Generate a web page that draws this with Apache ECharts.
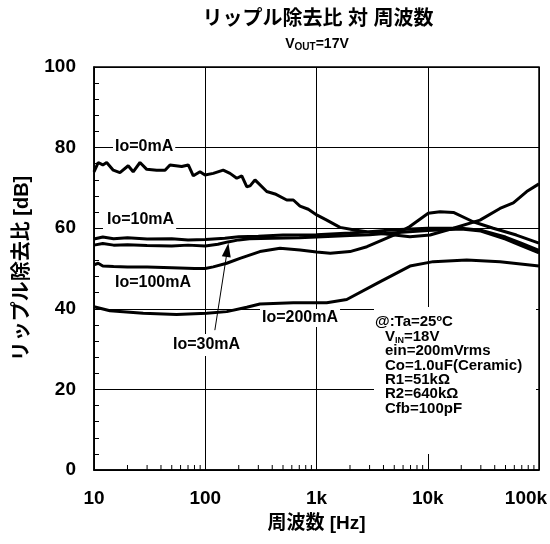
<!DOCTYPE html>
<html><head><meta charset="utf-8">
<script src="https://cdn.jsdelivr.net/npm/echarts@6/dist/echarts.min.js"></script>
<style>html,body{margin:0;padding:0;background:#fff}#c{width:550px;height:544px}</style>
</head><body><div id="c"></div>
<script>
// ---- data ----
const xTickLabels = ['10', '100', '1k', '10k', '100k'];
const yTickValues = [0, 20, 40, 60, 80, 100];

const io0Freq = [10, 10.9, 12.0, 13.0, 14.9, 17.1, 20.3, 22.5, 25.9, 29.8, 36.6, 43.5, 48.2, 61.4, 70.4, 78.1, 89.7, 99.5, 118, 145, 167, 192, 213, 236, 253, 280, 357, 424, 540, 619, 711, 844, 1004, 1236, 1627, 2143, 2825, 3980, 6920, 10500, 17000, 29500, 44600, 58800, 77500, 100000];
const io0Db   = [74.0, 76.3, 75.7, 76.3, 74.4, 73.8, 75.5, 74.0, 76.3, 74.6, 74.4, 74.4, 75.7, 75.3, 75.7, 73.0, 74.0, 73.2, 73.6, 74.4, 73.6, 72.4, 73.0, 70.3, 70.5, 72.0, 69.1, 68.5, 67.0, 67.0, 65.5, 64.7, 63.3, 62.0, 60.2, 59.6, 59.1, 58.6, 57.9, 58.3, 60.0, 62.0, 64.9, 66.3, 69.1, 71.0];

const io10Freq = [10, 12, 15, 20, 30, 50, 70, 100, 150, 200, 300, 500, 700, 1000, 2000, 3000, 5000, 10000, 20000, 30000, 50000, 70000, 100000];
const io10Db   = [57.3, 57.8, 57.4, 57.6, 57.3, 57.4, 57.1, 57.2, 57.5, 57.9, 58.0, 58.3, 58.3, 58.4, 58.8, 59.1, 59.6, 60.0, 60.0, 59.5, 57.8, 56.2, 54.5];

const io30Freq = [10, 12, 15, 20, 30, 50, 70, 100, 130, 160, 200, 250, 400, 700, 1000, 2000, 3000, 5000, 10000, 20000, 30000, 50000, 70000, 100000];
const io30Db   = [55.8, 56.2, 55.8, 55.9, 55.7, 55.6, 55.8, 55.6, 56.0, 56.6, 57.1, 57.4, 57.5, 57.6, 57.8, 58.2, 58.4, 58.9, 59.4, 59.8, 59.3, 57.3, 55.6, 53.9];

const io100Freq = [10, 10.9, 12, 15, 20, 30, 50, 80, 100, 118, 156, 205, 310, 470, 711, 1000, 1330, 2000, 2840, 4950, 6900, 10100, 12900, 17000, 25600, 38800, 62600, 100000];
const io100Db   = [50.9, 51.3, 50.6, 50.5, 50.4, 50.4, 50.2, 50.0, 50.0, 50.4, 51.3, 52.5, 54.2, 55.0, 54.6, 54.1, 53.8, 54.2, 55.4, 58.3, 60.4, 63.7, 64.1, 63.9, 61.6, 60.0, 58.3, 56.3];

const io200Freq = [10, 13.9, 27.7, 55.3, 103, 156, 236, 310, 619, 1236, 1870, 3600, 6920, 11200, 22400, 44600, 100000];
const io200Db   = [40.5, 39.5, 38.9, 38.6, 38.9, 39.3, 40.4, 41.2, 41.5, 41.5, 42.3, 46.5, 50.6, 51.7, 52.1, 51.7, 50.6];

const seriesNames = ['Io=0mA', 'Io=10mA', 'Io=30mA', 'Io=100mA', 'Io=200mA'];
const conditionLines = ['ein=200mVrms', 'Co=1.0uF(Ceramic)', 'R1=51kΩ', 'R2=640kΩ', 'Cfb=100pF'];

// ---- build ----
const zip = (f, d) => f.map((x, i) => [x, d[i]]);
const FONT = '"Liberation Sans", Arial, "Noto Sans CJK JP", sans-serif';
const minorTicks = [];
[10, 100, 1000, 10000].forEach(dec => { for (let k = 2; k <= 9; k++) minorTicks.push([k * dec, 0]); });

function lineSeries(name, data, extra) {
  return Object.assign({
    name, type: 'line', data, symbol: 'none', smooth: false, z: 3,
    lineStyle: { color: '#000', width: 3 }, silent: true, animation: false
  }, extra || {});
}

const chart = echarts.init(document.getElementById('c'), null, { renderer: 'canvas' });
const labelStyle = (text, x, y, pad) => ({
  type: 'text', x, y, z: 1,
  style: { text, font: 'bold 16px ' + FONT, fill: '#000', verticalAlign: 'middle', align: 'left',
           backgroundColor: '#fff', padding: pad || [1, 2, 1, 2] }
});

const graphics = [
  { type: 'text', x: 318, y: 19, style: { text: 'リップル除去比 対 周波数', font: 'bold 20px ' + FONT, fill: '#000', align: 'center', verticalAlign: 'middle' } },
  { type: 'text', x: 317, y: 44, style: {
      text: '{a|V}{s|OUT}{a|=17V}', align: 'center', verticalAlign: 'middle',
      rich: { a: { font: 'bold 14px ' + FONT, fill: '#000', lineHeight: 17 },
              s: { font: 'bold 10px ' + FONT, fill: '#000', verticalAlign: 'bottom', lineHeight: 13 } } } },
  labelStyle(seriesNames[0], 113, 147, [1, 2, 1, 2]),
  labelStyle(seriesNames[1], 103, 220, [2, 2, 3, 4]),
  labelStyle(seriesNames[3], 113, 283),
  labelStyle(seriesNames[4], 260, 318),
  labelStyle(seriesNames[2], 171, 345, [3, 2, 3, 2]),
  { type: 'rect', z: 1, shape: { x: 374, y: 307, width: 162, height: 147 }, style: { fill: '#fff' } },
  { type: 'text', x: 375, y: 322, z: 1, style: { text: '@:Ta=25ºC', font: 'bold 15px ' + FONT, fill: '#000', verticalAlign: 'middle' } },
  { type: 'text', x: 385, y: 336.5, z: 1, style: {
      text: '{a|V}{s|IN}{a|=18V}', verticalAlign: 'middle',
      rich: { a: { font: 'bold 15px ' + FONT, fill: '#000', lineHeight: 17 },
              s: { font: 'bold 9px ' + FONT, fill: '#000', verticalAlign: 'bottom', lineHeight: 12 } } } }
];
conditionLines.forEach((t, i) => {
  graphics.push({ type: 'text', x: 385, y: 351 + i * 14.4, z: 1,
    style: { text: t, font: 'bold 15px ' + FONT, fill: '#000', verticalAlign: 'middle' } });
});

chart.setOption({
  animation: false,
  backgroundColor: '#fff',
  grid: { left: 94, right: 11, top: 67, bottom: 74, containLabel: false, outerBoundsMode: 'none',
          show: true, borderColor: '#000', borderWidth: 1.5, backgroundColor: 'transparent' },
  xAxis: {
    type: 'log', logBase: 10, min: 10, max: 100000, splitNumber: 4,
    name: '周波数 [Hz]', nameLocation: 'middle', nameGap: 44,
    nameTextStyle: { fontFamily: FONT, fontWeight: 'bold', fontSize: 19, color: '#000' },
    axisLine: { show: true, lineStyle: { color: '#000', width: 1.5 } },
    axisTick: { show: false },
    splitLine: { show: true, lineStyle: { color: '#000', width: 1 } },
    axisLabel: {
      margin: 19, fontFamily: FONT, fontWeight: 'bold', fontSize: 19, color: '#000',
      formatter: v => {
        const i = Math.round(Math.log10(v)) - 1;
        return i === xTickLabels.length - 1 ? '{r|' + xTickLabels[i] + '}' : xTickLabels[i];
      },
      rich: { r: { fontFamily: FONT, fontWeight: 'bold', fontSize: 19, color: '#000', padding: [0, 26, 0, 0] } }
    }
  },
  yAxis: {
    type: 'value', min: 0, max: 100, interval: 20,
    name: 'リップル除去比 [dB]', nameLocation: 'middle', nameGap: 62, nameRotate: 90,
    nameTextStyle: { fontFamily: FONT, fontWeight: 'bold', fontSize: 20, color: '#000' },
    axisLine: { show: true, lineStyle: { color: '#000', width: 1.5 } },
    axisTick: { show: true, inside: true, length: 5, lineStyle: { color: '#000' } },
    minorTick: { show: true, splitNumber: 5, length: 5, lineStyle: { color: '#000', width: 1 } },
    splitLine: { show: true, lineStyle: { color: '#000', width: 1 } },
    axisLabel: { margin: 18, fontFamily: FONT, fontWeight: 'bold', fontSize: 19, color: '#000',
                 formatter: v => yTickValues.includes(v) ? String(v) : '' }
  },
  graphic: graphics,
  series: [
    {
      type: 'custom', silent: true, z: 2, clip: false, data: minorTicks,
      renderItem: (params, api) => {
        const p = api.coord([api.value(0), 0]);
        return { type: 'line', shape: { x1: p[0], y1: p[1], x2: p[0], y2: p[1] - 5 },
                 style: { stroke: '#000', lineWidth: 1 } };
      }
    },
    lineSeries(seriesNames[0], zip(io0Freq, io0Db)),
    lineSeries(seriesNames[1], zip(io10Freq, io10Db)),
    lineSeries(seriesNames[2], zip(io30Freq, io30Db), {
      markLine: {
        silent: true, symbol: ['none', 'triangle'], symbolSize: [9, 14],
        lineStyle: { color: '#000', width: 1, type: 'solid' },
        itemStyle: { color: '#000' },
        label: { show: false }, emphasis: { disabled: true },
        data: [[{ coord: [122, 34.7] }, { coord: [158, 54.6] }]]
      }
    }),
    lineSeries(seriesNames[3], zip(io100Freq, io100Db)),
    lineSeries(seriesNames[4], zip(io200Freq, io200Db))
  ]
});
</script></body></html>
